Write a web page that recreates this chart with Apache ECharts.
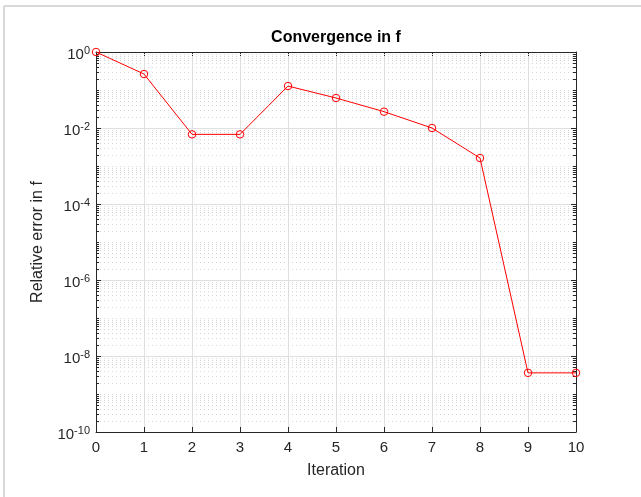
<!DOCTYPE html>
<html><head><meta charset="utf-8">
<script src="https://cdn.jsdelivr.net/npm/echarts@6/dist/echarts.min.js"></script>
<style>html,body{margin:0;padding:0;background:#fff}#c{width:641px;height:497px}</style>
</head><body><div id="c"></div>
<script>
// ---- data ----
const iterations = [0, 1, 2, 3, 4, 5, 6, 7, 8, 9, 10];
const relError = [1, 0.263, 0.0068, 0.0068, 0.127, 0.0616, 0.0269, 0.0100, 0.00162, 3.6e-9, 3.6e-9];
const xTickLabels = ['0', '1', '2', '3', '4', '5', '6', '7', '8', '9', '10'];
const yTickExponents = ['-10', '-8', '-6', '-4', '-2', '0'];
const minorMantissas = [1, 2, 3, 4, 5, 6, 7, 8, 9];
const minorDecades = [-10, -9, -8, -7, -6, -5, -4, -3, -2, -1];

const FONT = "'Liberation Sans', Arial, Helvetica, sans-serif";
const AX = '#262626';

// minor log grid positions (axis decoration, 2..9 x 10^k and odd decades)
const minorVals = [];
minorDecades.forEach(function (e) {
  minorMantissas.forEach(function (m) {
    if (m === 1 && e % 2 === 0) return;
    minorVals.push([0, m * Math.pow(10, e)]);
  });
});

const chart = echarts.init(document.getElementById('c'), null, {renderer: 'canvas'});

function yLabel(v) {
  const e = Math.round(Math.log10(v));
  const s = yTickExponents.find(function (t) { return Number(t) === e; });
  return '{b|10}{s|' + (s !== undefined ? s : e) + '}';
}

const richY = {
  b: {fontSize: 15, fontFamily: FONT, color: AX, lineHeight: 14, padding: [6, 0, 0, 0]},
  s: {fontSize: 11, fontFamily: FONT, color: AX, lineHeight: 13, verticalAlign: 'top'}
};

chart.setOption({
  backgroundColor: '#fff',
  animation: false,
  grid: {left: 96, right: 65, top: 52, bottom: 65, containLabel: false},
  graphic: [
    {type: 'line', shape: {x1: 4, y1: 6, x2: 641, y2: 6}, style: {stroke: '#cccccc', lineWidth: 1.5}, silent: true},
    {type: 'line', shape: {x1: 4, y1: 6, x2: 4, y2: 497}, style: {stroke: '#cccccc', lineWidth: 1.5}, silent: true},
    {type: 'text', x: 336, y: 38, style: {text: 'Convergence in f', font: 'bold 16px ' + FONT, fill: '#000', textAlign: 'center', textVerticalAlign: 'middle'}, silent: true}
  ],
  xAxis: [{
    type: 'value', min: 0, max: 10, interval: 1, position: 'bottom',
    name: 'Iteration', nameLocation: 'middle', nameGap: 31,
    nameTextStyle: {fontSize: 16, fontFamily: FONT, color: AX},
    axisLine: {show: true, onZero: false, lineStyle: {color: AX, width: 1}},
    axisTick: {show: true, inside: true, length: 5, lineStyle: {color: AX}},
    axisLabel: {margin: 8, fontSize: 15, fontFamily: FONT, color: AX,
      formatter: function (v) { return xTickLabels[Math.round(v)] || ''; }},
    splitLine: {show: true, lineStyle: {color: '#e0e0e0', width: 1}}
  }, {
    type: 'value', min: 0, max: 10, interval: 1, position: 'top',
    axisLine: {show: true, onZero: false, lineStyle: {color: AX, width: 1}},
    axisTick: {show: true, inside: true, length: 5, lineStyle: {color: AX}},
    axisLabel: {show: false}, splitLine: {show: false}
  }],
  yAxis: [{
    type: 'log', logBase: 10, min: 1e-10, max: 1, interval: 2, position: 'left',
    name: 'Relative error in f', nameLocation: 'middle', nameGap: 50,
    nameTextStyle: {fontSize: 16, fontFamily: FONT, color: AX},
    axisLine: {show: true, onZero: false, lineStyle: {color: AX, width: 1}},
    axisTick: {show: true, inside: true, length: 5, lineStyle: {color: AX}},
    axisLabel: {margin: 6, formatter: yLabel, rich: richY},
    splitLine: {show: true, lineStyle: {color: '#e0e0e0', width: 1}}
  }, {
    type: 'log', logBase: 10, min: 1e-10, max: 1, interval: 2, position: 'right',
    axisLine: {show: true, onZero: false, lineStyle: {color: AX, width: 1}},
    axisTick: {show: true, inside: true, length: 5, lineStyle: {color: AX}},
    axisLabel: {show: false}, splitLine: {show: false}
  }],
  series: [{
    type: 'custom', xAxisIndex: 0, yAxisIndex: 0, silent: true, z: 1,
    data: minorVals,
    renderItem: function (params, api) {
      const v = api.value(1);
      const p0 = api.coord([0, v]);
      const p1 = api.coord([10, v]);
      const y = Math.round(p0[1]) + 0.5;
      return {type: 'group', children: [
        {type: 'line', shape: {x1: p0[0], y1: y, x2: p1[0], y2: y},
          style: {stroke: '#d6d6d6', lineWidth: 1, lineDash: [1, 3]}},
        {type: 'line', shape: {x1: p0[0], y1: y, x2: p0[0] + 3, y2: y},
          style: {stroke: AX, lineWidth: 1}},
        {type: 'line', shape: {x1: p1[0] - 3, y1: y, x2: p1[0], y2: y},
          style: {stroke: AX, lineWidth: 1}}
      ]};
    }
  }, {
    type: 'line', xAxisIndex: 0, yAxisIndex: 0, z: 5,
    data: iterations.map(function (x, i) { return [x, relError[i]]; }),
    symbol: 'circle', symbolSize: 7.5, showSymbol: true,
    lineStyle: {color: '#ff0000', width: 1},
    itemStyle: {color: 'rgba(255,255,255,0)', borderColor: '#ff0000', borderWidth: 1},
    clip: false
  }]
});
</script></body></html>
